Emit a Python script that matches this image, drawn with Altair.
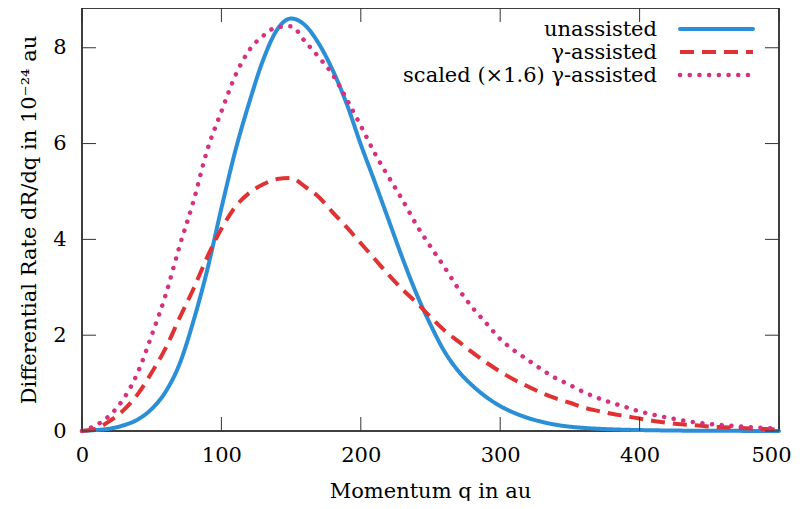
import altair as alt
import pandas as pd

# ---- data ----
q = list(range(0, 501, 10))
unassisted = [0.0, 0.02, 0.05, 0.12, 0.24, 0.46, 0.82, 1.40, 2.30, 3.38,
              4.65, 5.85, 6.86, 7.75, 8.38, 8.61, 8.47, 8.08, 7.52, 6.82,
              5.98, 5.20, 4.40, 3.60, 2.86, 2.22, 1.66, 1.25, 0.95, 0.71,
              0.52, 0.38, 0.27, 0.19, 0.13, 0.09, 0.065, 0.047, 0.035, 0.026,
              0.02, 0.015, 0.011, 0.008, 0.006, 0.005, 0.004, 0.003, 0.002, 0.002,
              0.001]
gamma_assisted = [0.0, 0.05, 0.21, 0.44, 0.77, 1.22, 1.73, 2.36, 2.97, 3.64,
                  4.22, 4.68, 4.97, 5.15, 5.26, 5.28, 5.10, 4.88, 4.56, 4.25,
                  3.92, 3.59, 3.26, 2.95, 2.68, 2.38, 2.10, 1.87, 1.64, 1.43,
                  1.24, 1.07, 0.93, 0.79, 0.68, 0.59, 0.49, 0.42, 0.36, 0.31,
                  0.26, 0.21, 0.17, 0.14, 0.12, 0.095, 0.08, 0.065, 0.05, 0.04,
                  0.03]
scaled_gamma = [0.0, 0.12, 0.33, 0.68, 1.22, 2.00, 2.84, 3.86, 4.80, 5.88,
                6.67, 7.42, 7.95, 8.25, 8.43, 8.45, 8.13, 7.80, 7.43, 6.92,
                6.37, 5.80, 5.30, 4.82, 4.30, 3.85, 3.42, 2.97, 2.58, 2.25,
                1.92, 1.68, 1.48, 1.28, 1.10, 0.96, 0.81, 0.69, 0.59, 0.50,
                0.41, 0.34, 0.28, 0.225, 0.18, 0.145, 0.12, 0.10, 0.08, 0.065,
                0.05]

series_names = ["unassisted", "γ-assisted", "scaled (×1.6) γ-assisted"]
series_values = [unassisted, gamma_assisted, scaled_gamma]
colors = ["#2b8fd8", "#e03232", "#d6307f"]
dashes = [[1, 0], [14, 8], [0.1, 9.6]]
caps = ["round", "butt", "round"]

x_ticks = [0, 100, 200, 300, 400, 500]
y_ticks = [0, 2, 4, 6, 8]

W, H = 697, 423
FONT = "DejaVu Serif"
FS = 21

xscale = alt.Scale(domain=[0, 500], nice=False, zero=False)
yscale = alt.Scale(domain=[0, 8.83], nice=False)

last_x = "datum.value == %d" % x_ticks[-1]

layers = []
for i, (name, vals) in enumerate(zip(series_names, series_values)):
    df = pd.DataFrame({"q": q, "rate": vals})
    if i == 0:
        enc = dict(
            x=alt.X("q:Q", scale=xscale,
                    axis=alt.Axis(values=x_ticks, ticks=False, domain=False, grid=False,
                                  labelFlush=False,
                                  labelAlign=alt.condition(last_x, alt.value("right"), alt.value("center")),
                                  labelOffset=alt.condition(last_x, alt.value(12), alt.value(0)),
                                  labelFontSize=FS, labelFont=FONT, labelColor="black",
                                  labelPadding=13, title="Momentum q in au",
                                  titleFont=FONT, titleFontSize=FS, titleFontWeight="normal",
                                  titleColor="black", titleX=348, titleY=66,
                                  titleBaseline="alphabetic")),
            y=alt.Y("rate:Q", scale=yscale,
                    axis=alt.Axis(values=y_ticks, ticks=False, domain=False, grid=False,
                                  labelFlush=False,
                                  labelFontSize=FS, labelFont=FONT, labelColor="black",
                                  labelPadding=16,
                                  title="Differential Rate dR/dq in 10⁻²⁴ au",
                                  titleFont=FONT, titleFontSize=FS, titleFontWeight="normal",
                                  titleColor="black", titleX=-47, titleY=H / 2,
                                  titleBaseline="alphabetic")),
        )
    else:
        enc = dict(x=alt.X("q:Q", scale=xscale), y=alt.Y("rate:Q", scale=yscale))
    layers.append(
        alt.Chart(df).mark_line(color=colors[i], strokeWidth=4 if i < 2 else 4.5,
                                strokeDash=dashes[i], strokeCap=caps[i],
                                interpolate="monotone").encode(**enc)
    )

# inward tick marks on all four sides
xt = pd.DataFrame({"t": x_ticks})
yt = pd.DataFrame({"t": y_ticks})
tick_color = "#333333"
layers.append(alt.Chart(xt).mark_rule(color=tick_color, strokeWidth=1).encode(
    x=alt.X("t:Q", scale=xscale), y=alt.value(H), y2=alt.value(H - 14)))
layers.append(alt.Chart(xt).mark_rule(color=tick_color, strokeWidth=1).encode(
    x=alt.X("t:Q", scale=xscale), y=alt.value(0), y2=alt.value(14)))
layers.append(alt.Chart(yt).mark_rule(color=tick_color, strokeWidth=1).encode(
    y=alt.Y("t:Q", scale=yscale), x=alt.value(0), x2=alt.value(14)))
layers.append(alt.Chart(yt).mark_rule(color=tick_color, strokeWidth=1).encode(
    y=alt.Y("t:Q", scale=yscale), x=alt.value(W), x2=alt.value(W - 14)))

# legend (top right, labels right-aligned left of the line samples)
row_y = [21, 44, 67]
for i, name in enumerate(series_names):
    ld = pd.DataFrame({"label": [name]})
    layers.append(alt.Chart(ld).mark_rule(color=colors[i], strokeWidth=4 if i < 2 else 4.5,
                                          strokeDash=dashes[i], strokeCap=caps[i]).encode(
        x=alt.value(598), x2=alt.value(671), y=alt.value(row_y[i])))
    layers.append(alt.Chart(ld).mark_text(align="right", baseline="middle", font=FONT,
                                          fontSize=FS, color="black").encode(
        text="label:N", x=alt.value(575), y=alt.value(row_y[i] + 1)))

chart = alt.layer(*layers).properties(
    width=W, height=H,
    autosize=alt.AutoSizeParams(type="none"),
    padding={"left": 74, "top": 0, "right": 13, "bottom": 70},
).configure_view(stroke="black", strokeWidth=1.5)

chart.save("out.html", embed_options={"renderer": "svg", "actions": False})
